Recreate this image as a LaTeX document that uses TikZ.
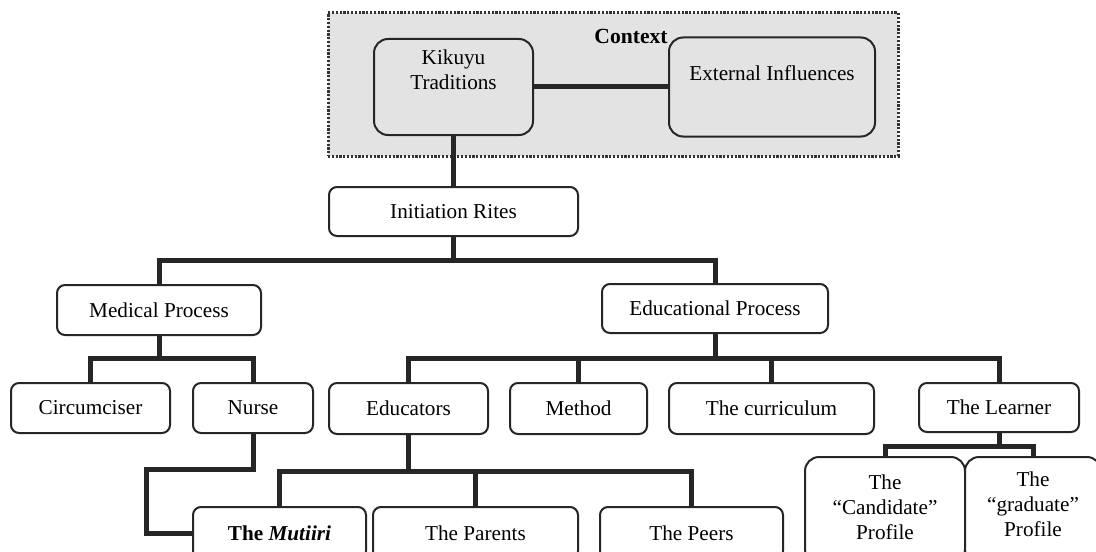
\documentclass[tikz,border=0pt]{standalone}
\usepackage{fontspec}
\setmainfont{Liberation Serif}
\begin{document}
\begin{tikzpicture}[x=0.5pt,y=-0.5pt,
  every node/.style={font=\fontsize{10.6}{12.4}\selectfont, inner sep=0pt},
  box/.style={draw=black!85, line width=1pt, rounded corners=4pt, fill=white, align=center},
  bigbox/.style={draw=black!85, line width=1pt, rounded corners=7pt, align=center},
  conn/.style={draw=black!85, line width=2.5pt, line join=miter},
  ctxbox/.style={draw=black!80, line width=1.5pt, dash pattern=on 1.1pt off 0.8pt, fill=black!11}]
\useasboundingbox (0,0) rectangle (1096,551);
\clip (0,0) rectangle (1096,551);
\fill[white] (0,0) rectangle (1096,551);
% context
\node[ctxbox, minimum width=285pt, minimum height=71.5pt] (ctx) at (613,84.5) {};
\node[font=\fontsize{10.8}{12.4}\selectfont\bfseries] (ctxT) at (631,36) {Context};
\node[bigbox, minimum width=79.5pt, minimum height=48pt] (kik) at (453.5,87) {};
\node[align=center] (kikT) at (453.5,70) {Kikuyu\\Traditions};
\node[bigbox, minimum width=103pt, minimum height=49.5pt] (ext) at (772,87) {};
\node (extT) at (772,73) {External Influences};
% tree
\node[box, minimum width=124.5pt, minimum height=24.5pt] (init) at (453.5,211.5) {Initiation Rites};
\node[box, minimum width=102pt, minimum height=25pt] (med) at (159,310) {Medical Process};
\node[box, minimum width=113pt, minimum height=24.5pt] (edu) at (715,308.5) {Educational Process};
\node[box, minimum width=79.5pt, minimum height=25pt] (circ) at (90.5,408) {Circumciser};
\node[box, minimum width=60pt, minimum height=25pt] (nurse) at (253,408) {Nurse};
\node[box, minimum width=79.5pt, minimum height=25.5pt] (educ) at (408.5,408.5) {Educators};
\node[box, minimum width=68.5pt, minimum height=25.5pt] (method) at (578.5,408.5) {Method};
\node[box, minimum width=102.5pt, minimum height=25.5pt] (curr) at (771.5,408.5) {The curriculum};
\node[box, minimum width=80pt, minimum height=24.5pt] (learner) at (999,407.5) {The Learner};
\node[box, minimum width=86.5pt, minimum height=26pt] (mut) at (279.5,533) {\textbf{The \textit{Mutiiri}}};
\node[box, minimum width=102.5pt, minimum height=26pt] (par) at (475.5,533) {The Parents};
\node[box, minimum width=91.5pt, minimum height=26pt] (peers) at (691.5,533) {The Peers};
\node[bigbox, fill=white, minimum width=80pt, minimum height=53pt] (cand) at (885,510) {};
\node[align=center] (candT) at (885,507.5) {The\\``Candidate''\\Profile};
\node[bigbox, fill=white, minimum width=68pt, minimum height=53pt] (grad) at (1033,510) {};
\node[align=center] (gradT) at (1033,504) {The\\``graduate''\\Profile};
% connectors
\draw[conn] (kik.east) -- (ext.west);
\draw[conn] (kik.south) -- (init.north);
\coordinate (b1) at (453.5,260);
\draw[conn] (init.south) -- (b1);
\draw[conn] (med.north) |- (b1) -| (edu.north);
\coordinate (b2) at (159,358);
\draw[conn] (med.south) -- (b2);
\draw[conn] (circ.north) |- (b2) -| (nurse.north);
\coordinate (b3) at (715,358);
\draw[conn] (edu.south) -- (b3);
\draw[conn] (educ.north) |- (b3) -| (learner.north);
\draw[conn] (method.north) -- (method.north |- b3);
\draw[conn] (curr.north) -- (curr.north |- b3);
\coordinate (b4) at (408.5,471);
\draw[conn] (educ.south) -- (b4);
\draw[conn] (mut.north) |- (b4) -| (peers.north);
\draw[conn] (par.north) -- (par.north |- b4);
\coordinate (n1) at (253,469);
\coordinate (n2) at (146,469);
\draw[conn] (nurse.south) -- (n1) -- (n2) |- (mut.west);
\coordinate (b5) at (999,446);
\draw[conn] (learner.south) -- (b5);
\draw[conn] (cand.north) |- (b5) -| (grad.north);
\end{tikzpicture}
\end{document}
